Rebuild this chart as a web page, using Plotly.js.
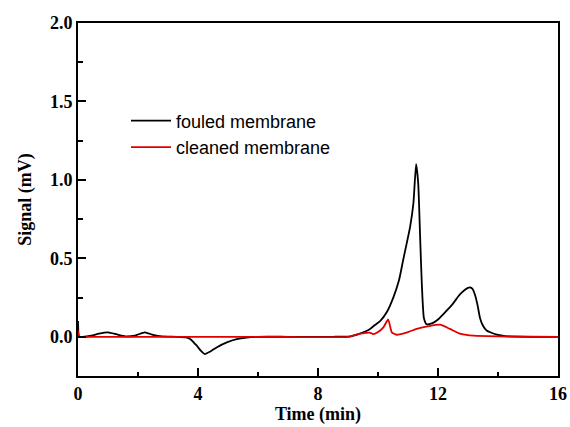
<!DOCTYPE html>
<html>
<head>
<meta charset="utf-8">
<script src="https://cdn.plot.ly/plotly-3.0.1.min.js"></script>
<style>html,body{margin:0;padding:0;background:#fff;}#chart{width:570px;height:427px;}</style>
</head>
<body>
<div id="chart"></div>
<script>
var seriesNames = ["fouled membrane", "cleaned membrane"];
var timeFouled = [0, 0.04, 0.15, 0.4, 0.7, 1.0, 1.3, 1.6, 1.9, 2.23, 2.5, 2.8, 3.3, 3.6, 3.75, 3.96, 4.1, 4.23, 4.4, 4.62, 4.96, 5.29, 5.62, 6.0, 7.0, 8.5, 9.1, 9.4, 9.7, 9.9, 10.07, 10.3, 10.51, 10.7, 10.84, 11.07, 11.18, 11.27, 11.34, 11.4, 11.46, 11.53, 11.62, 11.8, 12.0, 12.18, 12.45, 12.73, 12.9, 13.0, 13.07, 13.15, 13.23, 13.32, 13.4, 13.5, 13.62, 13.96, 14.3, 15, 16];
var signalFouled = [0.10, 0, 0, 0.005, 0.02, 0.028, 0.015, 0.003, 0.008, 0.028, 0.012, 0.002, 0, -0.004, -0.015, -0.057, -0.09, -0.11, -0.095, -0.068, -0.036, -0.015, -0.005, 0, 0, 0, 0.003, 0.02, 0.045, 0.075, 0.10, 0.16, 0.25, 0.36, 0.49, 0.70, 0.85, 1.10, 0.98, 0.66, 0.34, 0.12, 0.08, 0.085, 0.11, 0.145, 0.2, 0.27, 0.3, 0.312, 0.315, 0.305, 0.27, 0.2, 0.12, 0.07, 0.04, 0.013, 0.003, 0, 0];
var timeCleaned = [0, 0.03, 0.1, 3, 6, 9.0, 9.4, 9.6, 9.73, 9.84, 10.0, 10.18, 10.34, 10.46, 10.62, 11.0, 11.29, 11.7, 12.07, 12.4, 12.73, 13.0, 13.29, 14, 16];
var signalCleaned = [0.04, 0, 0, 0, 0, 0, 0.02, 0.025, 0.027, 0.017, 0.03, 0.06, 0.11, 0.028, 0.013, 0.03, 0.05, 0.068, 0.077, 0.05, 0.02, 0.01, 0.006, 0.002, 0];
var xTicks = [0, 4, 8, 12, 16];
var yTicks = [0.0, 0.5, 1.0, 1.5, 2.0];
var yTickLabels = ["0.0", "0.5", "1.0", "1.5", "2.0"];

var traces = [
  {x: timeFouled, y: signalFouled, name: seriesNames[0], type: "scatter", mode: "lines", line: {color: "#000000", width: 1.8, shape: "spline", smoothing: 0.5}},
  {x: timeCleaned, y: signalCleaned, name: seriesNames[1], type: "scatter", mode: "lines", line: {color: "#e00000", width: 1.8, shape: "spline", smoothing: 0.5}}
];
var serif = {family: "Liberation Serif, Times New Roman, serif", size: 18, color: "#000", weight: "bold"};
var layout = {
  width: 570, height: 427,
  margin: {l: 78, r: 12, t: 23, b: 51},
  paper_bgcolor: "#fff", plot_bgcolor: "#fff",
  showlegend: true,
  legend: {x: 0.1, y: 0.775, xanchor: "left", yanchor: "top", bgcolor: "rgba(0,0,0,0)", itemwidth: 40,
    font: {family: "Liberation Sans, Arial, sans-serif", size: 18, color: "#000"}},
  xaxis: {range: [0, 16], tickmode: "array", tickvals: xTicks, ticktext: xTicks.map(String),
    ticks: "inside", ticklen: 8, tickwidth: 2, tickcolor: "#000",
    minor: {dtick: 2, ticks: "inside", ticklen: 4, tickwidth: 2, tickcolor: "#000"},
    showline: true, linecolor: "#000", linewidth: 2, mirror: true, showgrid: false, zeroline: false,
    tickfont: serif, title: {text: "Time (min)", font: serif, standoff: 4}},
  yaxis: {range: [-0.25, 2.0], tickmode: "array", tickvals: yTicks, ticktext: yTickLabels,
    ticks: "inside", ticklen: 8, tickwidth: 2, tickcolor: "#000",
    minor: {dtick: 0.25, tick0: 0, ticks: "inside", ticklen: 5, tickwidth: 2, tickcolor: "#000"},
    showline: true, linecolor: "#000", linewidth: 2, mirror: true, showgrid: false, zeroline: false,
    tickfont: serif, title: {text: "Signal (mV)", font: serif, standoff: 14}}
};
Plotly.newPlot("chart", traces, layout, {displayModeBar: false, staticPlot: true});
</script>
</body>
</html>
